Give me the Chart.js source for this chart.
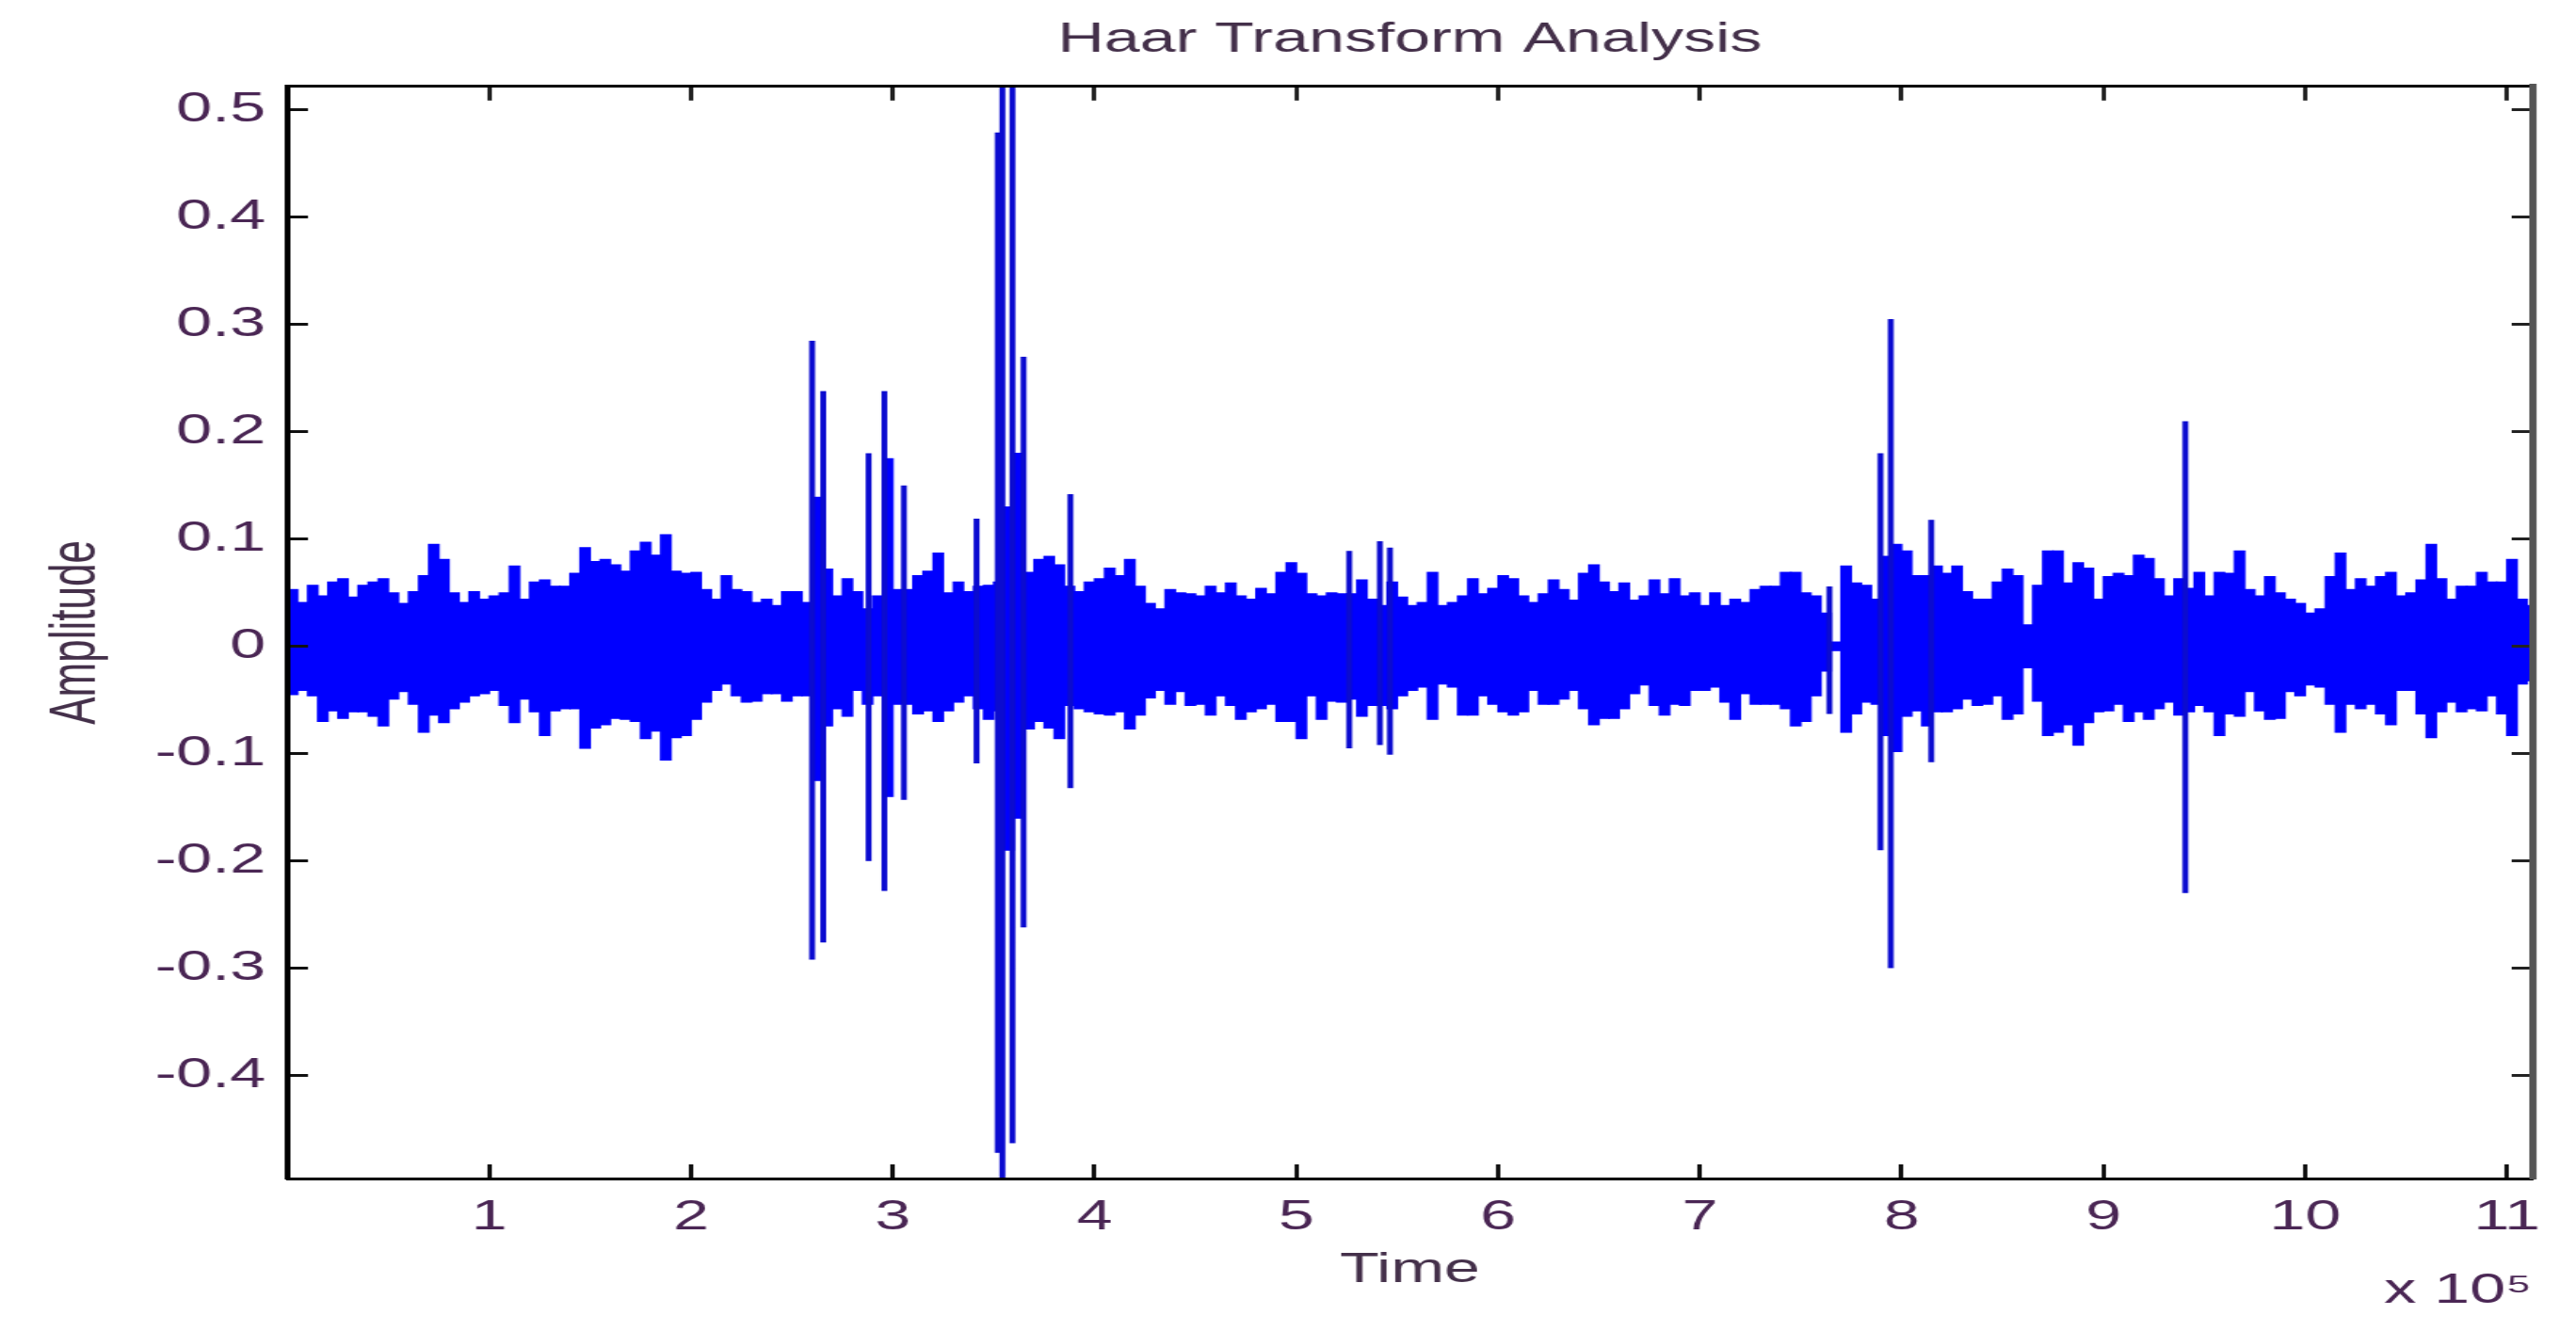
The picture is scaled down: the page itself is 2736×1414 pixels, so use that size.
<!DOCTYPE html>
<html>
<head>
<meta charset="utf-8">
<script src="https://cdn.jsdelivr.net/npm/chart.js@4.4.0/dist/chart.umd.min.js"></script>
<style>
  html, body { margin: 0; padding: 0; background: #ffffff; overflow: hidden; }
  #wrap { position: absolute; left: 0; top: 0; width: 1765px; height: 1414px;
          transform: scaleX(1.5501); transform-origin: 0 0; }
</style>
</head>
<body>
<div id="wrap"><canvas id="chart"></canvas></div>
<script>
// Time is in units of 10^5 samples; each envelope bin spans binWidth.
const binWidth = 0.05;

// Upper envelope of the signal per bin
const envelopeUpper = [
  0.053, 0.041, 0.057, 0.047, 0.060, 0.063, 0.046, 0.057, 0.060, 0.063,
  0.050, 0.040, 0.051, 0.066, 0.095, 0.081, 0.050, 0.041, 0.051, 0.044,
  0.047, 0.050, 0.075, 0.044, 0.060, 0.062, 0.056, 0.056, 0.068, 0.092,
  0.079, 0.081, 0.076, 0.070, 0.089, 0.097, 0.085, 0.104, 0.070, 0.068,
  0.069, 0.053, 0.044, 0.066, 0.053, 0.051, 0.041, 0.044, 0.038, 0.051,
  0.051, 0.041, 0.139, 0.072, 0.047, 0.063, 0.051, 0.035, 0.047, 0.175,
  0.053, 0.053, 0.066, 0.070, 0.087, 0.050, 0.060, 0.051, 0.056, 0.057,
  0.060, 0.130, 0.180, 0.069, 0.081, 0.084, 0.076, 0.056, 0.051, 0.060,
  0.063, 0.073, 0.066, 0.081, 0.056, 0.040, 0.035, 0.053, 0.050, 0.049,
  0.047, 0.056, 0.050, 0.059, 0.047, 0.044, 0.054, 0.049, 0.069, 0.078,
  0.068, 0.049, 0.047, 0.050, 0.049, 0.049, 0.062, 0.044, 0.038, 0.060,
  0.046, 0.038, 0.041, 0.069, 0.038, 0.041, 0.047, 0.063, 0.049, 0.054,
  0.066, 0.063, 0.047, 0.041, 0.049, 0.062, 0.053, 0.043, 0.068, 0.076,
  0.060, 0.051, 0.059, 0.043, 0.047, 0.062, 0.049, 0.063, 0.047, 0.050,
  0.038, 0.050, 0.038, 0.044, 0.041, 0.053, 0.056, 0.056, 0.069, 0.069,
  0.050, 0.047, 0.031, 0.004, 0.075, 0.059, 0.057, 0.044, 0.084, 0.095,
  0.089, 0.066, 0.066, 0.075, 0.068, 0.075, 0.051, 0.044, 0.044, 0.060,
  0.072, 0.066, 0.020, 0.057, 0.089, 0.089, 0.059, 0.078, 0.073, 0.044,
  0.065, 0.068, 0.066, 0.085, 0.082, 0.063, 0.047, 0.063, 0.054, 0.069,
  0.047, 0.069, 0.068, 0.089, 0.053, 0.047, 0.065, 0.050, 0.044, 0.040,
  0.031, 0.035, 0.065, 0.087, 0.053, 0.063, 0.056, 0.065, 0.069, 0.047,
  0.050, 0.062, 0.095, 0.063, 0.044, 0.056, 0.056, 0.069, 0.060, 0.060,
  0.081, 0.044, 0.038
];

// Lower envelope of the signal per bin
const envelopeLower = [
  -0.045, -0.041, -0.046, -0.070, -0.060, -0.067, -0.061, -0.061, -0.065, -0.074,
  -0.049, -0.042, -0.054, -0.080, -0.064, -0.071, -0.058, -0.052, -0.046, -0.044,
  -0.041, -0.055, -0.071, -0.049, -0.061, -0.083, -0.060, -0.058, -0.058, -0.095,
  -0.076, -0.073, -0.067, -0.068, -0.070, -0.086, -0.079, -0.106, -0.085, -0.083,
  -0.068, -0.052, -0.041, -0.035, -0.046, -0.052, -0.051, -0.044, -0.044, -0.051,
  -0.046, -0.046, -0.125, -0.074, -0.058, -0.065, -0.041, -0.054, -0.046, -0.140,
  -0.054, -0.054, -0.063, -0.060, -0.070, -0.060, -0.052, -0.046, -0.058, -0.068,
  -0.060, -0.190, -0.160, -0.077, -0.070, -0.076, -0.086, -0.055, -0.058, -0.061,
  -0.063, -0.064, -0.061, -0.077, -0.064, -0.048, -0.041, -0.054, -0.042, -0.055,
  -0.054, -0.064, -0.046, -0.055, -0.068, -0.061, -0.058, -0.054, -0.070, -0.070,
  -0.086, -0.046, -0.068, -0.051, -0.052, -0.049, -0.065, -0.055, -0.055, -0.058,
  -0.046, -0.041, -0.038, -0.068, -0.035, -0.038, -0.064, -0.064, -0.046, -0.054,
  -0.061, -0.064, -0.061, -0.041, -0.054, -0.054, -0.049, -0.041, -0.058, -0.073,
  -0.067, -0.067, -0.058, -0.044, -0.036, -0.055, -0.064, -0.054, -0.055, -0.041,
  -0.041, -0.038, -0.052, -0.068, -0.044, -0.054, -0.054, -0.054, -0.058, -0.074,
  -0.070, -0.046, -0.023, -0.004, -0.080, -0.063, -0.052, -0.054, -0.083, -0.098,
  -0.065, -0.060, -0.074, -0.061, -0.061, -0.058, -0.049, -0.055, -0.054, -0.046,
  -0.068, -0.063, -0.020, -0.051, -0.083, -0.080, -0.073, -0.092, -0.071, -0.061,
  -0.060, -0.054, -0.070, -0.061, -0.068, -0.058, -0.052, -0.064, -0.061, -0.055,
  -0.061, -0.083, -0.063, -0.065, -0.042, -0.060, -0.068, -0.067, -0.042, -0.046,
  -0.036, -0.038, -0.054, -0.080, -0.054, -0.058, -0.054, -0.063, -0.073, -0.041,
  -0.041, -0.063, -0.085, -0.061, -0.052, -0.061, -0.058, -0.060, -0.046, -0.063,
  -0.083, -0.035, -0.032
];

// Isolated transients (time x10^5, peak, trough)
const spikeTime = [2.600, 2.655, 2.880, 2.958, 3.055, 3.415, 3.520, 3.543, 3.593, 3.648,
                   3.880, 5.262, 5.414, 5.464, 7.642, 7.895, 7.946, 8.147, 9.406];
const spikeHigh = [0.285, 0.238, 0.180, 0.238, 0.150, 0.119, 0.479, 0.530, 0.530, 0.270,
                   0.142, 0.089, 0.098, 0.092, 0.056, 0.180, 0.305, 0.118, 0.210];
const spikeLow  = [-0.292, -0.276, -0.200, -0.228, -0.143, -0.109, -0.472, -0.500, -0.463, -0.262,
                   -0.132, -0.095, -0.092, -0.101, -0.063, -0.190, -0.300, -0.108, -0.230];

const xTickValues = [1, 2, 3, 4, 5, 6, 7, 8, 9, 10, 11];
const yTickValues = [-0.4, -0.3, -0.2, -0.1, 0, 0.1, 0.2, 0.3, 0.4, 0.5];
const xLimits = [0, 11.125];
const yLimits = [-0.496, 0.522];

// ---- build library data from the arrays ----
const bandData = envelopeUpper.map((u, i) => ({ x: (i + 0.5) * binWidth, y: [envelopeLower[i], u] }));
const spikeData = [];
spikeTime.forEach((t, i) => {
  spikeData.push({ x: t, y: spikeHigh[i] }, { x: t, y: spikeLow[i] }, { x: t, y: null });
});

const FONT = "'Liberation Sans', Arial, Helvetica, sans-serif";
const tickColor = '#4a2654';
const textColor = '#44304a';
const tickFont = { family: FONT, size: 44, weight: 'normal' };

const setX = s => { s.ticks = xTickValues.map(v => ({ value: v })); };
const setY = s => { s.ticks = yTickValues.map(v => ({ value: v })); };
const fitH = h => s => { s.height = h; s.paddingLeft = 0; s.paddingRight = 0; };
const fitW = w => s => { s.width = w; s.paddingTop = 0; s.paddingBottom = 0; };

new Chart(document.getElementById('chart'), {
  type: 'bar',
  data: {
    datasets: [
      {
        type: 'bar',
        data: bandData,
        backgroundColor: '#0000ff',
        borderWidth: 0,
        borderSkipped: false,
        barPercentage: 1.0,
        categoryPercentage: 1.0,
        inflateAmount: 0.6,
        order: 2
      },
      {
        type: 'line',
        data: spikeData,
        borderColor: '#0b0bd0',
        borderWidth: 4,
        pointRadius: 0,
        spanGaps: false,
        fill: false,
        tension: 0,
        borderCapStyle: 'butt',
        order: 1
      }
    ]
  },
  options: {
    responsive: true,
    maintainAspectRatio: false,
    animation: false,
    devicePixelRatio: 1,
    layout: { padding: { left: 0, right: 30, top: 0, bottom: 0 } },
    plugins: {
      legend: { display: false },
      tooltip: { enabled: false },
      title: {
        display: true,
        fullSize: false,
        text: 'Haar Transform Analysis',
        color: textColor,
        font: { family: FONT, size: 44, weight: 'normal' },
        padding: { top: 16, bottom: 23 }
      },
      subtitle: {
        display: true,
        fullSize: false,
        position: 'bottom',
        align: 'end',
        text: 'x 10\u2075',
        color: tickColor,
        font: { family: FONT, size: 44, weight: 'normal' },
        padding: { top: -31, bottom: 16.2 }
      }
    },
    scales: {
      x: {
        type: 'linear',
        position: 'bottom',
        min: xLimits[0], max: xLimits[1],
        offset: false,
        afterBuildTicks: setX,
        afterFit: fitH(124),
        ticks: { padding: 30, font: tickFont, color: tickColor, maxRotation: 0, autoSkip: false,
                 callback: v => String(v) },
        grid: { display: true, offset: false, drawOnChartArea: false, drawTicks: true,
                tickLength: -15, tickWidth: 3, tickColor: '#111', z: 1 },
        border: { display: true, color: '#000', width: 3, z: 1 },
        title: { display: true, text: 'Time', color: textColor, font: tickFont,
                 padding: { top: 0, bottom: 0 } }
      },
      xTop: {
        type: 'linear',
        position: 'top',
        min: xLimits[0], max: xLimits[1],
        offset: false,
        afterBuildTicks: setX,
        afterFit: fitH(0),
        ticks: { display: false },
        grid: { display: true, offset: false, drawOnChartArea: false, drawTicks: true,
                tickLength: -15, tickWidth: 3, tickColor: '#222', z: 1 },
        border: { display: true, color: '#000', width: 3, z: 1 }
      },
      y: {
        type: 'linear',
        position: 'left',
        min: yLimits[0], max: yLimits[1],
        afterBuildTicks: setY,
        afterFit: fitW(197),
        ticks: { padding: 29, font: tickFont, color: tickColor,
                 callback: v => String(Math.round(v * 10) / 10) },
        grid: { display: true, drawOnChartArea: false, drawTicks: true,
                tickLength: -14, tickWidth: 3, tickColor: '#111', z: 1 },
        border: { display: true, color: '#000', width: 4, z: 1 },
        title: { display: true, text: 'Amplitude', color: textColor, font: tickFont,
                 padding: { top: 26.6, bottom: 0 } }
      },
      yRight: {
        type: 'linear',
        position: 'right',
        min: yLimits[0], max: yLimits[1],
        afterBuildTicks: setY,
        afterFit: fitW(0),
        ticks: { display: false },
        grid: { display: true, drawOnChartArea: false, drawTicks: true,
                tickLength: -14, tickWidth: 3, tickColor: '#222', z: 1 },
        border: { display: true, color: '#555', width: 5, z: 1 }
      }
    }
  }
});
</script>
</body>
</html>
